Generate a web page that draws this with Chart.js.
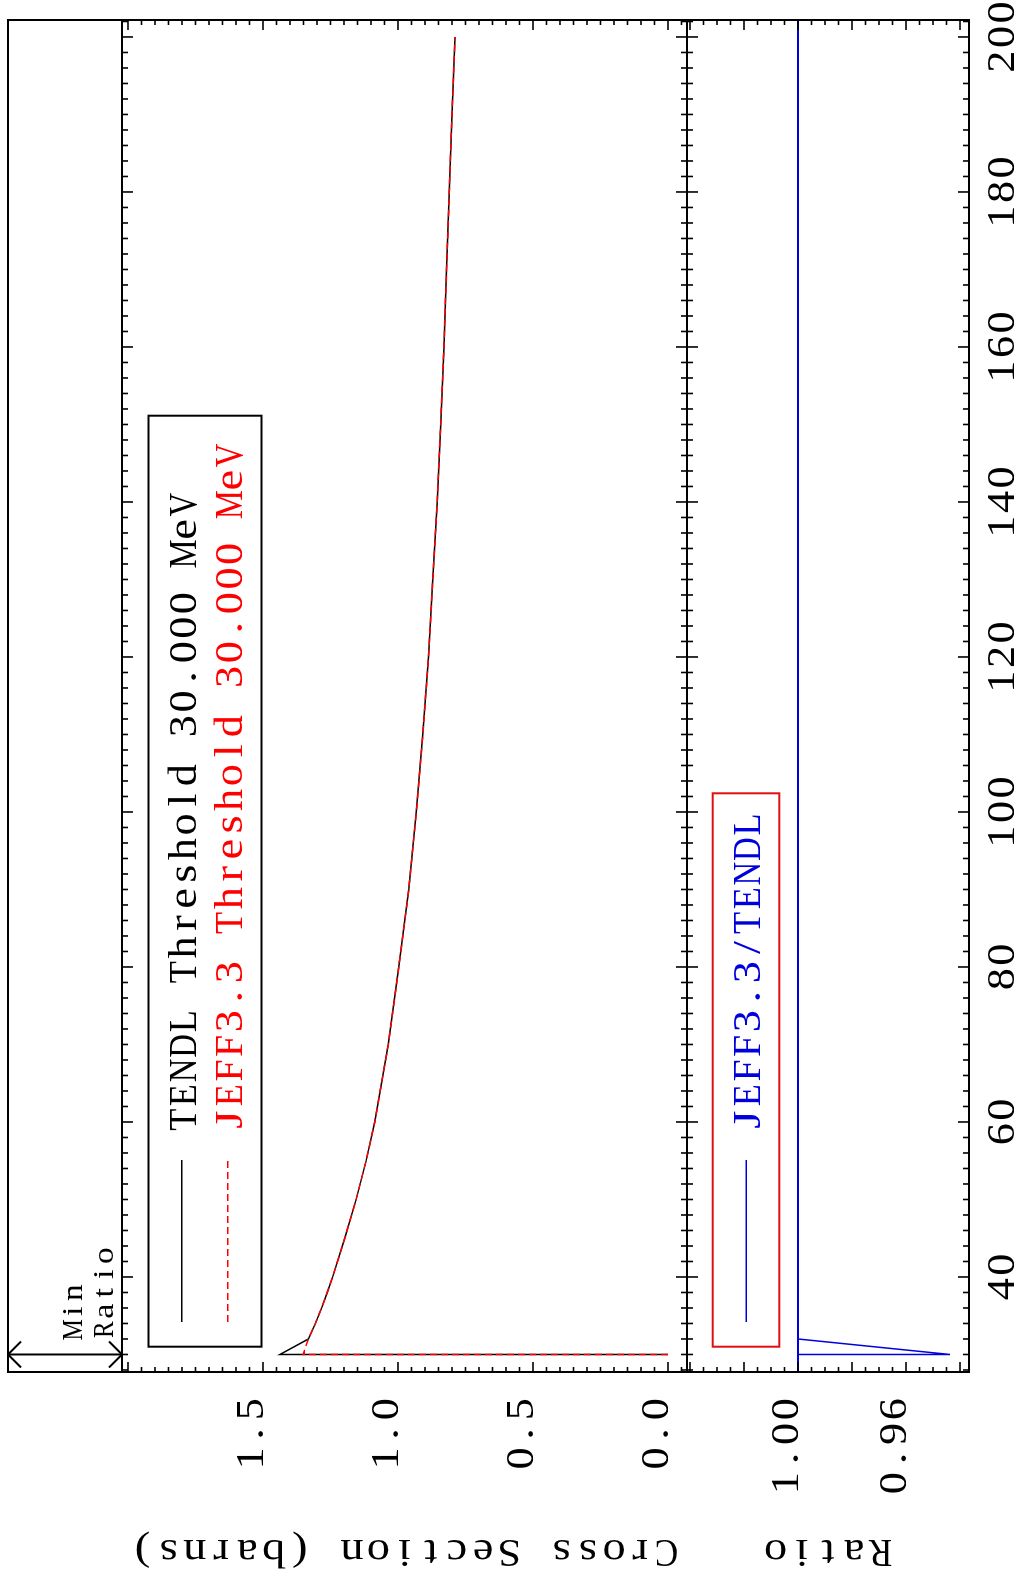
<!DOCTYPE html>
<html lang="en">
<head>
    <meta charset="UTF-8">
    <title>TENDL / JEFF3.3 Threshold Cross Section</title>
    <script src="https://cdn.jsdelivr.net/npm/chart.js"></script>
    <style>
        html, body {
            margin: 0;
            padding: 0;
            background: #fff;
            overflow: hidden;
        }
        /* the plot is laid out landscape and turned a quarter turn, as printed */
        #page {
            position: absolute;
            left: 0;
            top: 0;
            width: 1584px;
            height: 1024px;
            transform-origin: 0 0;
            transform: translateY(1584px) rotate(-90deg);
        }
        #page canvas {
            position: absolute;
            left: 0;
            top: 0;
        }
    </style>
</head>
<body>
    <div id="page">
        <canvas id="mainChart" width="1584" height="1024"></canvas>
        <canvas id="ratioChart" width="1584" height="1024"></canvas>
    </div>

    <script>
        // ---- data (energy in MeV, cross section in barns) ----
        const energies = [30, 30, 32, 33, 34, 36, 38, 40, 45, 50, 55, 60, 70, 80, 90, 100,
                          110, 120, 130, 140, 150, 160, 170, 180, 190, 200];
        const tendlXs  = [0, 1.437, 1.332, 1.319, 1.306, 1.283, 1.262, 1.242, 1.197, 1.155, 1.118, 1.086, 1.036, 0.997, 0.960, 0.932,
                          0.908, 0.887, 0.871, 0.855, 0.842, 0.830, 0.820, 0.810, 0.800, 0.789];
        const jeffXs   = [0, 1.352, 1.332, 1.319, 1.306, 1.283, 1.262, 1.242, 1.197, 1.155, 1.118, 1.086, 1.036, 0.997, 0.960, 0.932,
                          0.908, 0.887, 0.871, 0.855, 0.842, 0.830, 0.820, 0.810, 0.800, 0.789];
        const ratioVals = [1.0, 0.9437, 1.0, 1.0, 1.0, 1.0, 1.0, 1.0, 1.0, 1.0, 1.0, 1.0, 1.0, 1.0, 1.0, 1.0,
                           1.0, 1.0, 1.0, 1.0, 1.0, 1.0, 1.0, 1.0, 1.0, 1.0];

        // axis ranges
        const X_MIN = 27.74, X_MAX = 202.19;
        const CS_MIN = -0.0704, CS_MAX = 2.0222;
        const R_MIN = 0.93667, R_MAX = 1.04111;

        // ticks and labels
        const xMajor = [40, 60, 80, 100, 120, 140, 160, 180, 200];
        const xLabels = ['40', '60', '80', '100', '120', '140', '160', '180', '200'];
        const xMinorStep = 2;
        const csMajor = [0, 0.5, 1.0, 1.5, 2.0];
        const csLabels = ['0.0', '0.5', '1.0', '1.5', ''];
        const csMinorStep = 0.05;
        const ratioMajor = [0.94, 0.96, 0.98, 1.00, 1.02, 1.04];
        const ratioLabels = ['', '0.96', '', '1.00', '', ''];
        const ratioMinorStep = 0.005;

        const FONT = '"Liberation Serif", "DejaVu Serif", serif';
        const BLUE = '#0000dd';
        const RED = '#ff0000';

        const toPoints = (ys) => energies.map((e, i) => ({ x: e, y: ys[i] }));

        function minorValues(min, max, step) {
            const out = [];
            const start = Math.ceil(min / step - 1e-6);
            const end = Math.floor(max / step + 1e-6);
            for (let i = start; i <= end; i++) out.push(i * step);
            return out;
        }

        // fixed-pitch drawing, the original uses a wide monospaced serif face.
        // narrow glyphs get widened a bit, wide ones are kept inside their cell
        function monoText(ctx, text, x, y, size, cell, align) {
            ctx.font = size + 'px ' + FONT;
            ctx.textAlign = 'center';
            ctx.textBaseline = 'alphabetic';
            const w = text.length * cell;
            const x0 = align === 'center' ? x - w / 2 : (align === 'right' ? x - w : x);
            for (let i = 0; i < text.length; i++) {
                const gw = ctx.measureText(text[i]).width || 1;
                const sx = Math.min(1.14, (cell * 0.9) / gw);
                ctx.save();
                ctx.translate(x0 + cell * (i + 0.5), y);
                ctx.scale(Math.max(sx, 0.8), 1);
                ctx.fillText(text[i], 0, 0);
                ctx.restore();
            }
        }

        function line(ctx, x1, y1, x2, y2) {
            ctx.beginPath();
            ctx.moveTo(x1, y1);
            ctx.lineTo(x2, y2);
            ctx.stroke();
        }

        function drawFrameTicks(ctx, chart, yMajor, yStep) {
            const a = chart.chartArea;
            const xs = chart.scales.x, ys = chart.scales.y;
            ctx.strokeStyle = '#000';
            ctx.lineWidth = 1.6;
            minorValues(X_MIN, X_MAX, xMinorStep).forEach(v => {
                const p = xs.getPixelForValue(v);
                const len = xMajor.some(m => Math.abs(m - v) < 1e-6) ? 11 : 6;
                line(ctx, p, a.top, p, a.top + len);
                line(ctx, p, a.bottom, p, a.bottom - len);
            });
            minorValues(ys.min, ys.max, yStep).forEach(v => {
                const p = ys.getPixelForValue(v);
                const len = yMajor.some(m => Math.abs(m - v) < 1e-6) ? 10 : 5;
                line(ctx, a.left, p, a.left + len, p);
                line(ctx, a.right, p, a.right - len, p);
            });
            ctx.lineWidth = 2;
            ctx.strokeRect(a.left, a.top, a.right - a.left, a.bottom - a.top);
        }

        function drawYLabels(ctx, chart, values, labels) {
            ctx.fillStyle = '#000';
            values.forEach((v, i) => {
                if (!labels[i]) return;
                monoText(ctx, labels[i], 187, chart.scales.y.getPixelForValue(v), 41, 24.6, 'right');
            });
        }

        function drawYTitle(ctx, text, cy) {
            ctx.save();
            ctx.translate(44, cy);
            ctx.rotate(-Math.PI / 2);
            ctx.fillStyle = '#000';
            monoText(ctx, text, 0, 0, 41, 26.2, 'center');
            ctx.restore();
        }

        const mainDecor = {
            id: 'mainDecor',
            afterDraw(chart) {
                const ctx = chart.ctx;
                const a = chart.chartArea;
                ctx.save();
                drawFrameTicks(ctx, chart, csMajor, csMinorStep);
                drawYLabels(ctx, chart, csMajor, csLabels);
                drawYTitle(ctx, 'Cross Section (barns)', (a.top + a.bottom) / 2);

                // strip above the panel with the minimum-ratio marker
                ctx.strokeStyle = '#000';
                ctx.lineWidth = 2;
                ctx.strokeRect(a.left, 8, a.right - a.left, a.top - 8);
                const ax = chart.scales.x.getPixelForValue(energies[1]);
                line(ctx, ax, 8, ax, a.top);
                line(ctx, ax, 8, ax - 13, 21);
                line(ctx, ax, 8, ax + 13, 21);
                line(ctx, ax, a.top, ax - 13, a.top - 13);
                line(ctx, ax, a.top, ax + 13, a.top - 13);
                ctx.fillStyle = '#000';
                monoText(ctx, 'Min', 245, 82, 30, 18.5, 'left');
                monoText(ctx, 'Ratio', 245, 113, 30, 18.5, 'left');

                // legend
                ctx.lineWidth = 2;
                ctx.strokeStyle = '#000';
                ctx.strokeRect(237.3, 148.5, 931, 113);
                ctx.lineWidth = 1.5;
                line(ctx, 262, 181.7, 424, 181.7);
                ctx.strokeStyle = RED;
                ctx.setLineDash([7, 4]);
                line(ctx, 262, 227.7, 424, 227.7);
                ctx.setLineDash([]);
                ctx.fillStyle = '#000';
                monoText(ctx, 'TENDL Threshold 30.000 MeV', 452, 196, 41, 24.6, 'left');
                ctx.fillStyle = RED;
                monoText(ctx, 'JEFF3.3 Threshold 30.000 MeV', 452, 242, 41, 24.6, 'left');
                ctx.restore();
            }
        };

        const ratioDecor = {
            id: 'ratioDecor',
            afterDraw(chart) {
                const ctx = chart.ctx;
                const a = chart.chartArea;
                ctx.save();
                drawFrameTicks(ctx, chart, ratioMajor, ratioMinorStep);
                drawYLabels(ctx, chart, ratioMajor, ratioLabels);
                drawYTitle(ctx, 'Ratio', (a.top + a.bottom) / 2);

                ctx.fillStyle = '#000';
                xMajor.forEach((v, i) => {
                    monoText(ctx, xLabels[i], chart.scales.x.getPixelForValue(v), 1014, 41, 24.6, 'center');
                });

                // legend
                ctx.strokeStyle = '#dd1111';
                ctx.lineWidth = 2;
                ctx.strokeRect(237.3, 712.7, 553.4, 66.6);
                ctx.strokeStyle = BLUE;
                ctx.lineWidth = 1.5;
                line(ctx, 262, 746.3, 424, 746.3);
                ctx.fillStyle = BLUE;
                monoText(ctx, 'JEFF3.3/TENDL', 452, 760, 41, 24.6, 'left');
                ctx.restore();
            }
        };

        function baseOptions(yMin, yMax, padding) {
            return {
                responsive: false,
                animation: false,
                events: [],
                layout: { padding: padding },
                plugins: {
                    legend: { display: false },
                    tooltip: { enabled: false }
                },
                elements: {
                    point: { radius: 0 },
                    line: { tension: 0 }
                },
                scales: {
                    x: { type: 'linear', min: X_MIN, max: X_MAX, display: false },
                    y: { type: 'linear', min: yMin, max: yMax, display: false }
                }
            };
        }

        new Chart(document.getElementById('mainChart'), {
            type: 'line',
            data: {
                datasets: [{
                    label: 'JEFF3.3 Threshold 30.000 MeV',
                    data: toPoints(jeffXs),
                    borderColor: RED,
                    borderWidth: 1.5,
                    borderDash: [7, 4],
                    fill: false,
                    order: 0
                }, {
                    label: 'TENDL Threshold 30.000 MeV',
                    data: toPoints(tendlXs),
                    borderColor: '#000',
                    borderWidth: 1.5,
                    fill: false,
                    order: 1
                }]
            },
            options: baseOptions(CS_MIN, CS_MAX, { left: 212, right: 20, top: 122, bottom: 337 }),
            plugins: [mainDecor]
        });

        new Chart(document.getElementById('ratioChart'), {
            type: 'line',
            data: {
                datasets: [{
                    label: 'JEFF3.3/TENDL',
                    data: toPoints(ratioVals),
                    borderColor: BLUE,
                    borderWidth: 1.5,
                    fill: false,
                    order: 0
                }, {
                    label: 'unity',
                    data: [{ x: X_MIN, y: 1 }, { x: X_MAX, y: 1 }],
                    borderColor: BLUE,
                    borderWidth: 2,
                    fill: false,
                    order: 1
                }]
            },
            options: baseOptions(R_MIN, R_MAX, { left: 212, right: 20, top: 687, bottom: 55 }),
            plugins: [ratioDecor]
        });
    </script>
</body>
</html>
